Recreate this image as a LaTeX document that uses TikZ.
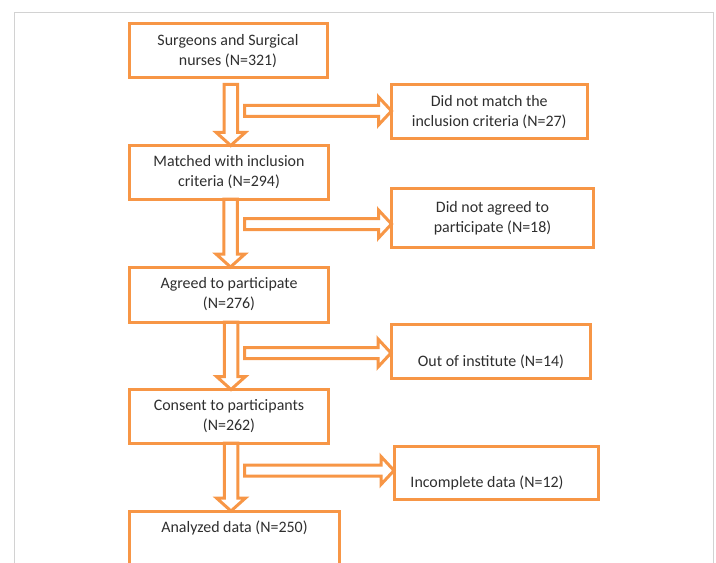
\documentclass[tikz,border=0pt]{standalone}
\usepackage{fontspec}
\setmainfont{Carlito}
\definecolor{boxorange}{HTML}{F79646}
\definecolor{txtgray}{HTML}{2E2E2E}
\definecolor{framegray}{HTML}{D2D2D2}
\newcommand\bdarrow[3]{% centre x, top y, tip y
  \draw[blockarrow] ({#1-6.75},#2) -- ({#1+6.75},#2) -- ({#1+6.75},{#3-13}) -- ({#1+14.5},{#3-13}) -- (#1,#3) -- ({#1-14.5},{#3-13}) -- ({#1-6.75},{#3-13}) -- cycle;}
\newcommand\brarrow[3]{% start x, tip x, centre y
  \draw[blockarrow] (#1,{#3-5.5}) -- ({#2-13},{#3-5.5}) -- ({#2-13},{#3-14}) -- (#2,#3) -- ({#2-13},{#3+14}) -- ({#2-13},{#3+5.5}) -- (#1,{#3+5.5}) -- cycle;}
\begin{document}
\begin{tikzpicture}[x=1bp,y=-1bp,
  box/.style={draw=boxorange, line width=3bp, inner sep=0pt, align=center, text=txtgray, font=\fontsize{16}{20}\selectfont},
  lbl/.style={inner sep=0pt, align=center, text=txtgray, font=\fontsize{16}{20}\selectfont},
  blockarrow/.style={draw=boxorange, line width=3bp, fill=white, line join=miter}]
\useasboundingbox (0,0) rectangle (716,563);
\draw[framegray, line width=1bp] (14,570) -- (14,13) -- (713,13) -- (713,570);
% block arrows
\bdarrow{230.75}{84.5}{145.5}
\bdarrow{230.5}{199}{267}
\bdarrow{231}{322}{389.5}
\bdarrow{231}{443}{511}
\brarrow{244.5}{391.5}{111}
\brarrow{244.5}{391.5}{224}
\brarrow{244.5}{391}{353}
\brarrow{244.5}{394}{470.5}
% main column
\node[box, minimum width=198bp, minimum height=54bp] (b1) at (228,51) {Surgeons and Surgical\\nurses (N=321)};
\node[box, minimum width=199bp, minimum height=53.5bp] (b2) at (229,172.25) {Matched with inclusion\\criteria (N=294)};
\node[box, minimum width=199bp, minimum height=55bp] (b3) at (229,294.5) {Agreed to participate\\(N=276)};
\node[box, minimum width=199bp, minimum height=53.5bp] (b4) at (229,416.25) {Consent to participants\\(N=262)};
\node[box, minimum width=210bp, minimum height=64bp] (b5) at (234,543) {};
\node[lbl] (t5) at (234.5,528) {Analyzed data (N=250)};
% side boxes
\node[box, minimum width=195.5bp, minimum height=54bp] (r1) at (489.25,111.7) {Did not match the\\inclusion criteria (N=27)};
\node[box, minimum width=202bp, minimum height=58.3bp] (r2) at (492.5,217.85) {Did not agreed to\\participate (N=18)};
\node[box, minimum width=199bp, minimum height=53.5bp] (r3) at (490.5,351.25) {};
\node[lbl] (t3) at (491,362) {Out of institute (N=14)};
\node[box, minimum width=204bp, minimum height=53bp] (r4) at (496,472.5) {};
\node[lbl] (t4) at (487,483) {Incomplete data (N=12)};
\end{tikzpicture}
\end{document}
